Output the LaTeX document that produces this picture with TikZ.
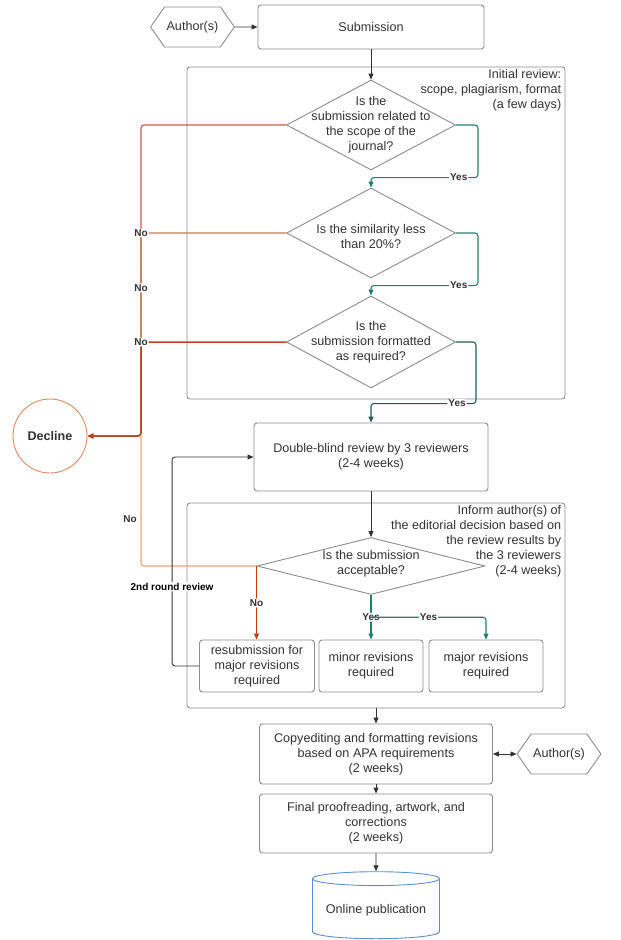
\documentclass[tikz,border=0pt]{standalone}
\usepackage{fontspec}
\setmainfont{Liberation Sans}
\usetikzlibrary{positioning, arrows.meta, shapes.geometric, shapes.symbols, calc}

\definecolor{boxgray}{HTML}{8C8C8C}
\definecolor{inkgray}{HTML}{333333}
\definecolor{yesteal}{HTML}{23806E}
\definecolor{yesdark}{HTML}{1E5E52}
\definecolor{nored}{HTML}{D9534F}
\definecolor{notan}{HTML}{C47E4E}
\definecolor{norust}{HTML}{B8431C}
\definecolor{nopeach}{HTML}{EBA27E}
\definecolor{noflame}{HTML}{C23B0C}
\definecolor{declinerim}{HTML}{D98B62}
\definecolor{dbblue}{HTML}{5B8FD6}

\begin{document}
\begin{tikzpicture}[
    x=1pt, y=-1pt,
    every node/.style={text=inkgray, font=\fontsize{12.6}{15}\selectfont},
    stepbox/.style={draw=boxgray, rounded corners=3pt, align=center, line width=0.9pt},
    group/.style={draw=boxgray, rounded corners=3pt, line width=0.9pt},
    grouplabel/.style={anchor=north east, align=right, inner sep=1pt},
    decision/.style={diamond, draw=boxgray, line width=0.9pt, inner sep=0pt},
    author/.style={signal, signal to=west and east, signal pointer angle=110, draw=boxgray,
        line width=0.9pt, minimum width=79pt, minimum height=40pt, inner sep=2pt},
    lbl/.style={font=\bfseries\fontsize{10}{11}\selectfont, fill=white, inner sep=1pt},
    arrow/.style={-{Triangle[length=6pt, width=5pt]}, line width=0.9pt, draw=inkgray, rounded corners=3pt},
    yesarrow/.style={arrow, draw=yesteal, line width=1.1pt},
    noline/.style={arrow, line width=1.1pt}
]
    \useasboundingbox (0, 0) rectangle (621, 940);

    % === Submission ===
    \node[author] (author1) at (192.5, 27) {Author(s)};
    \node[stepbox, minimum width=226pt, minimum height=44pt] (submit) at (371, 27) {Submission};
    \draw[arrow] (author1) -- (submit);

    % === Initial review ===
    \node[group, minimum width=378pt, minimum height=332pt] (initial) at (376, 233) {};
    \node[grouplabel] at ([xshift=-3pt, yshift=-2pt]initial.north east) {Initial review:\\scope, plagiarism, format\\(a few days)};

    \node[decision, minimum width=169pt, minimum height=90pt] (scope) at (371, 125) {};
    \node[align=center] at (scope) {Is the\\submission related to\\the scope of the\\journal?};
    \node[decision, minimum width=169pt, minimum height=90pt] (similar) at (371, 233) {};
    \node[align=center] at ([yshift=-3pt]similar) {Is the similarity less\\than 20\%?};
    \node[decision, minimum width=169pt, minimum height=92pt] (format) at (371, 342) {};
    \node[align=center] at (format) {Is the\\submission formatted\\as required?};

    \draw[arrow] (submit) -- (scope);

    % Yes branches
    \draw[yesarrow] (scope.east) -- ++(22, 0) |- ($(similar.north)+(0, -10)$) node[lbl, pos=0.59] {Yes} -- (similar.north);
    \draw[yesarrow] (similar.east) -- ++(22, 0) |- ($(format.north)+(0, -10)$) node[lbl, pos=0.59] {Yes} -- (format.north);

    % === Decline ===
    \node[circle, draw=declinerim, line width=0.9pt, minimum size=74pt, font=\bfseries\fontsize{12.6}{15}\selectfont] (decline) at (50, 436) {Decline};
    \coordinate (nojoin) at (141, 436);

    % No branches
    \draw[noline, draw=nored] (scope.west) -| (nojoin) -- (decline.east);
    \draw[noline, draw=notan] (similar.west) -| (nojoin) node[lbl, pos=0.5] {No} node[lbl, pos=0.635] {No} -- (decline.east);
    \draw[noline, draw=norust, line width=1.5pt] (format.west) -| (nojoin) node[lbl, pos=0.5] {No} -- (decline.east);

    % === Double-blind review ===
    \node[stepbox, minimum width=234pt, minimum height=68pt] (review) at (371, 457) {Double-blind review by 3 reviewers\\(2-4 weeks)};
    \draw[yesarrow, draw=yesdark] (format.east) -- ++(20, 0) |- ($(review.north)+(0, -19)$) node[lbl, pos=0.59] {Yes} -- (review.north);

    % === Editorial decision ===
    \node[group, minimum width=378pt, minimum height=205pt] (inform) at (376, 605.5) {};
    \node[grouplabel] at ([xshift=-3pt, yshift=-2pt]inform.north east) {Inform author(s) of\\the editorial decision based on\\the review results by\\the 3 reviewers\\(2-4 weeks)};

    \node[decision, minimum width=228pt, minimum height=57pt] (accept) at (371, 566) {};
    \node[align=center] at ([yshift=2pt]accept) {Is the submission\\acceptable?};
    \draw[arrow] (review) -- (accept);

    \node[stepbox, minimum width=115pt, minimum height=52pt] (resub) at (257, 666) {resubmission for\\major revisions\\required};
    \node[stepbox, minimum width=104pt, minimum height=52pt] (minor) at (371, 666) {minor revisions\\required};
    \node[stepbox, minimum width=114pt, minimum height=52pt] (major) at (486, 666) {major revisions\\required};

    \coordinate (yesfork) at ($(accept.south)!0.5!(minor.north)$);
    \draw[yesarrow] (accept.south) -- (minor.north) node[lbl, pos=0.5] {Yes};
    \draw[yesarrow] (yesfork) -| (major.north) node[lbl, pos=0.25] {Yes};

    \draw[noline, draw=nopeach, -] (accept.west) -| (nojoin) node[lbl, pos=0.68, xshift=-11pt, fill=none] {No};
    \draw[noline, draw=noflame] (accept.west) -- (accept.west |- resub.north) node[lbl, midway] {No};

    % 2nd round loop
    \draw[arrow] (resub.west) -- ++(-27, 0) |- (review.west) node[lbl, pos=0.19, text=black] {2nd round review};

    % === Production ===
    \node[stepbox, minimum width=233pt, minimum height=60pt] (copyedit) at (376, 754) {Copyediting and formatting revisions\\based on APA requirements\\(2 weeks)};
    \node[author] (author2) at (559, 754) {Author(s)};
    \node[stepbox, minimum width=233pt, minimum height=59pt] (proof) at (376, 823.5) {Final proofreading, artwork, and\\corrections\\(2 weeks)};
    \node[cylinder, shape border rotate=90, aspect=0.13, draw=dbblue, line width=0.9pt,
        minimum width=127pt, minimum height=67pt] (online) at (376, 910) {Online publication};

    \draw[arrow] (inform.south) -- (copyedit.north);
    \draw[arrow, {Triangle[length=6pt, width=5pt]}-{Triangle[length=6pt, width=5pt]}] (copyedit.east) -- (author2.west);
    \draw[arrow] (copyedit.south) -- (proof.north);
    \draw[arrow] (proof.south) -- (online.north);

\end{tikzpicture}
\end{document}
